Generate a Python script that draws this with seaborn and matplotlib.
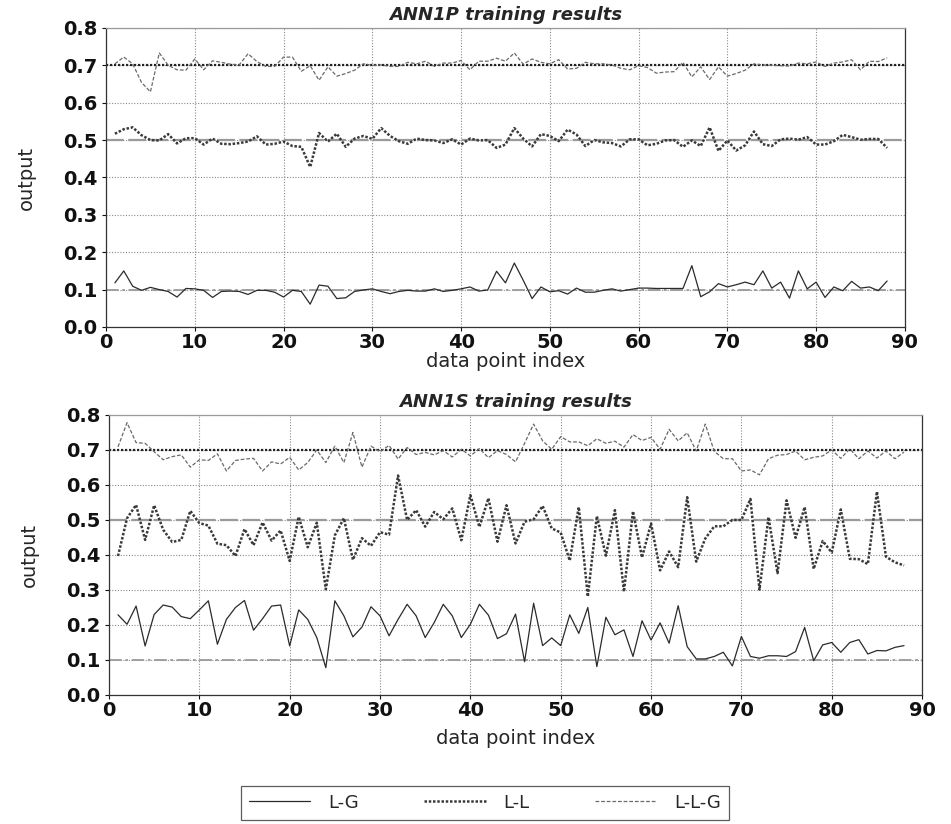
# %%
import numpy as np
import pandas as pd
import seaborn as sns
import matplotlib.pyplot as plt
from matplotlib.lines import Line2D

# %%
idx = list(range(1, 89))

top_lg = [0.118, 0.15, 0.109, 0.098, 0.106, 0.1, 0.095, 0.08, 0.103, 0.102,
          0.098, 0.079, 0.095, 0.096, 0.095, 0.087, 0.098, 0.098, 0.093, 0.08,
          0.098, 0.095, 0.061, 0.112, 0.109, 0.076, 0.078, 0.095, 0.099, 0.102,
          0.095, 0.089, 0.095, 0.098, 0.096, 0.096, 0.102, 0.095, 0.098, 0.102,
          0.107, 0.096, 0.099, 0.149, 0.118, 0.171, 0.125, 0.076, 0.107, 0.094,
          0.097, 0.088, 0.104, 0.093, 0.093, 0.098, 0.102, 0.096, 0.1, 0.104,
          0.104, 0.103, 0.103, 0.103, 0.103, 0.164, 0.081, 0.094, 0.116, 0.107,
          0.113, 0.12, 0.113, 0.15, 0.104, 0.12, 0.077, 0.15, 0.102, 0.12,
          0.079, 0.107, 0.097, 0.122, 0.104, 0.107, 0.097, 0.123]
top_ll = [0.517, 0.529, 0.534, 0.513, 0.5, 0.499, 0.516, 0.491, 0.505, 0.505,
          0.488, 0.504, 0.49, 0.489, 0.492, 0.496, 0.51, 0.488, 0.49, 0.496,
          0.484, 0.482, 0.428, 0.519, 0.496, 0.517, 0.482, 0.504, 0.511, 0.503,
          0.532, 0.511, 0.497, 0.49, 0.504, 0.5, 0.499, 0.492, 0.502, 0.488,
          0.504, 0.499, 0.5, 0.479, 0.488, 0.532, 0.504, 0.483, 0.516, 0.511,
          0.497, 0.528, 0.515, 0.484, 0.5, 0.494, 0.492, 0.483, 0.502, 0.502,
          0.486, 0.49, 0.499, 0.5, 0.482, 0.499, 0.484, 0.534, 0.471, 0.499,
          0.472, 0.486, 0.523, 0.489, 0.484, 0.502, 0.504, 0.501, 0.508, 0.488,
          0.488, 0.497, 0.514, 0.508, 0.501, 0.503, 0.503, 0.479]
top_llg = [0.704, 0.722, 0.704, 0.654, 0.629, 0.733, 0.7, 0.688, 0.687, 0.717,
           0.688, 0.712, 0.708, 0.703, 0.701, 0.731, 0.71, 0.697, 0.697, 0.722,
           0.722, 0.684, 0.699, 0.66, 0.696, 0.671, 0.678, 0.687, 0.704, 0.7,
           0.701, 0.697, 0.697, 0.708, 0.704, 0.711, 0.697, 0.706, 0.706, 0.713,
           0.688, 0.711, 0.711, 0.719, 0.711, 0.733, 0.703, 0.717, 0.708, 0.704,
           0.715, 0.69, 0.692, 0.708, 0.704, 0.704, 0.701, 0.692, 0.688, 0.699,
           0.694, 0.679, 0.682, 0.683, 0.708, 0.669, 0.696, 0.662, 0.696, 0.671,
           0.678, 0.687, 0.704, 0.701, 0.7, 0.699, 0.698, 0.706, 0.704, 0.709,
           0.697, 0.706, 0.709, 0.715, 0.688, 0.711, 0.71, 0.72]

bot_lg = [0.229, 0.202, 0.254, 0.14, 0.23, 0.257, 0.251, 0.224, 0.218, 0.243,
          0.269, 0.145, 0.216, 0.25, 0.27, 0.185, 0.218, 0.254, 0.257, 0.14,
          0.243, 0.216, 0.164, 0.078, 0.269, 0.226, 0.166, 0.194, 0.252, 0.226,
          0.169, 0.216, 0.259, 0.226, 0.164, 0.207, 0.259, 0.226, 0.164, 0.202,
          0.259, 0.228, 0.161, 0.175, 0.231, 0.095, 0.262, 0.141, 0.163, 0.141,
          0.229, 0.176, 0.25, 0.081, 0.222, 0.172, 0.186, 0.11, 0.212, 0.157,
          0.206, 0.148, 0.255, 0.138, 0.103, 0.103, 0.11, 0.122, 0.083, 0.167,
          0.11, 0.105, 0.112, 0.112, 0.11, 0.124, 0.193, 0.098, 0.143, 0.15,
          0.122, 0.15, 0.158, 0.117, 0.127, 0.126, 0.136, 0.141]
bot_ll = [0.397, 0.505, 0.543, 0.443, 0.542, 0.472, 0.437, 0.443, 0.526, 0.491,
          0.484, 0.432, 0.428, 0.397, 0.474, 0.428, 0.493, 0.441, 0.47, 0.383,
          0.509, 0.422, 0.492, 0.302, 0.456, 0.505, 0.386, 0.448, 0.426, 0.465,
          0.458, 0.627, 0.5, 0.528, 0.481, 0.523, 0.502, 0.533, 0.442, 0.571,
          0.48, 0.562, 0.438, 0.542, 0.433, 0.495, 0.502, 0.54, 0.476, 0.464,
          0.384, 0.537, 0.281, 0.511, 0.398, 0.528, 0.295, 0.525, 0.393, 0.49,
          0.356, 0.41, 0.365, 0.565, 0.381, 0.447, 0.482, 0.482, 0.5, 0.5,
          0.56, 0.301, 0.508, 0.348, 0.556, 0.449, 0.537, 0.36, 0.44, 0.407,
          0.53, 0.389, 0.388, 0.374, 0.581, 0.395, 0.379, 0.37]
bot_llg = [0.709, 0.778, 0.721, 0.719, 0.695, 0.672, 0.681, 0.686, 0.651, 0.672,
           0.67, 0.689, 0.64, 0.67, 0.674, 0.676, 0.64, 0.666, 0.66, 0.679,
           0.643, 0.664, 0.7, 0.664, 0.711, 0.664, 0.75, 0.651, 0.711, 0.695,
           0.713, 0.674, 0.707, 0.687, 0.693, 0.686, 0.698, 0.68, 0.702, 0.683,
           0.704, 0.678, 0.698, 0.687, 0.666, 0.719, 0.774, 0.726, 0.702, 0.738,
           0.723, 0.723, 0.712, 0.732, 0.719, 0.725, 0.708, 0.744, 0.727, 0.736,
           0.702, 0.759, 0.726, 0.749, 0.697, 0.774, 0.696, 0.675, 0.675, 0.64,
           0.643, 0.629, 0.675, 0.685, 0.687, 0.697, 0.672, 0.679, 0.683, 0.7,
           0.676, 0.703, 0.675, 0.697, 0.677, 0.697, 0.675, 0.694]

targets = [0.1, 0.5, 0.7]
series_names = ["L-G", "L-L", "L-L-G"]

# line styles for each model
styles = {
    "L-G": dict(color="#2b2b2b", lw=0.9, ls="-"),
    "L-L": dict(color="#3a3a3a", lw=1.8, ls=(0, (1, 0.7))),
    "L-L-G": dict(color="#6a6a6a", lw=0.9, ls=(0, (3, 1.5))),
}
target_styles = {
    0.1: dict(color="#9a9a9a", lw=1.3, ls=(0, (7, 2, 1.5, 2))),
    0.5: dict(color="#9a9a9a", lw=1.6, ls=(0, (8, 2))),
    0.7: dict(color="#222222", lw=1.6, ls=(0, (1, 0.8))),
}

# %%
sns.set_style("ticks")
plt.rcParams["font.family"] = ["DejaVu Sans"]

fig = plt.figure(figsize=(9.51, 8.24), dpi=100)
ax_top = fig.add_axes([0.1115, 0.6032, 0.840, 0.3629])
ax_bot = fig.add_axes([0.1146, 0.1566, 0.855, 0.3398])


def draw_panel(ax, lg, ll, llg, title, xlabelpad):
    df = pd.DataFrame({"index": idx, "L-G": lg, "L-L": ll, "L-L-G": llg})
    long_df = df.melt(id_vars="index", var_name="model", value_name="output")

    for val in targets:
        ax.axhline(val, zorder=1, **target_styles[val])

    for name in series_names:
        sub = long_df[long_df["model"] == name]
        st = styles[name]
        sns.lineplot(data=sub, x="index", y="output", ax=ax, color=st["color"],
                     linewidth=st["lw"], linestyle=st["ls"], zorder=3, legend=False)

    ax.set_xlim(0, 90)
    ax.set_ylim(0, 0.8)
    ax.set_xticks(np.arange(0, 91, 10))
    ax.set_yticks(np.arange(0, 0.81, 0.1))
    ax.set_yticklabels(["%.1f" % v for v in np.arange(0, 0.81, 0.1)])
    ax.grid(True, color="#8a8a8a", linestyle=(0, (1, 1.5)), linewidth=0.8)
    ax.tick_params(axis="both", direction="out", length=3, width=0.8,
                   labelsize=14, colors="#111111")
    ax.tick_params(axis="x", pad=1)
    ax.tick_params(axis="y", pad=3)
    for lab in ax.get_xticklabels() + ax.get_yticklabels():
        lab.set_fontweight("bold")
    for sp in ax.spines.values():
        sp.set_color("#333333")
        sp.set_linewidth(0.9)
    ax.spines["top"].set_color("#999999")
    ax.set_xlabel("data point index", fontsize=14, labelpad=xlabelpad)
    ax.set_ylabel("output", fontsize=14, labelpad=20)
    ax.set_title(title, fontsize=13, fontweight="bold", style="italic", pad=6)


draw_panel(ax_top, top_lg, top_ll, top_llg, "ANN1P training results", 0.5)
draw_panel(ax_bot, bot_lg, bot_ll, bot_llg, "ANN1S training results", 7)

# shared legend at the bottom
handles = [Line2D([0], [0], color=styles[n]["color"], lw=styles[n]["lw"],
                  ls=styles[n]["ls"]) for n in series_names]
leg = fig.legend(handles, series_names, loc="lower center", ncol=3,
                 bbox_to_anchor=(0.51, -0.008), fontsize=13, frameon=True,
                 fancybox=False, handlelength=3.4, columnspacing=3.6,
                 handletextpad=1.0, borderpad=0.45, borderaxespad=0.6)
leg.get_frame().set_edgecolor("#333333")
leg.get_frame().set_linewidth(0.9)

plt.savefig("out.png", dpi=100)
